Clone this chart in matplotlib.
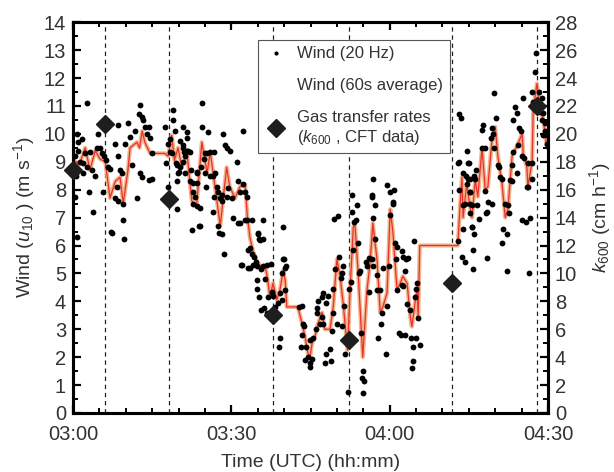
import matplotlib
matplotlib.use("Agg")
import matplotlib.pyplot as plt
from matplotlib.lines import Line2D
from matplotlib.ticker import MultipleLocator, FixedLocator

plt.rcParams['font.family'] = ['Liberation Sans', 'DejaVu Sans']
plt.rcParams['mathtext.fontset'] = 'custom'
plt.rcParams['mathtext.rm'] = 'Liberation Sans'
plt.rcParams['mathtext.it'] = 'Liberation Sans:italic'

# ---- data (time in minutes after 03:00 UTC) ----
xtick_pos = [0, 30, 60, 90]
xtick_labels = ["03:00", "03:30", "04:00", "04:30"]

# 20 Hz wind samples (m s-1)
dots_t = [0.4, 0.7, 0.8, 0.9, 1.7, 0.4, 1.3, 1.9, 2.7, 3.6, 1.9, 4.2, 3.0, 3.8, 4.5, 5.1, 4.8, 5.5, 5.9, 6.3,
          6.7, 7.0, 5.7, 8.0, 8.6, 8.6, 8.9, 9.2, 8.3, 8.0, 8.6, 9.5, 9.9, 10.5, 10.8, 11.1, 11.8, 12.1, 12.4, 12.7,
          13.0, 13.0, 13.3, 13.6, 14.0, 14.3, 14.6, 14.3, 14.9, 12.6, 2.7, 7.2, 7.3, 9.6, 9.5, 14.9, 0.5, 1.0, 2.2, 3.3,
          17.4, 17.6, 18.0, 18.0, 18.7, 19.0, 19.0, 19.3, 19.5, 19.9, 19.7, 20.3, 20.8, 20.8, 21.2, 21.6, 21.8, 22.2, 22.2, 22.5,
          22.7, 23.4, 24.1, 24.4, 24.4, 25.0, 25.0, 25.6, 26.0, 26.5, 26.9, 27.3, 27.5, 27.9, 28.2, 28.4, 28.8, 29.2, 29.7, 29.4,
          30.1, 30.3, 31.1, 31.3, 31.6, 32.2, 32.2, 32.6, 33.0, 33.0, 33.9, 36.0, 39.8,
          21.5, 18.4, 20.3, 20.8, 21.0, 21.6, 20.8, 19.7, 18.4, 20.1, 21.2, 22.4, 23.5, 24.3, 24.8, 25.4, 26.7, 26.0, 26.5, 19.7,
          22.7, 23.4, 25.2, 23.1, 22.7, 23.4, 24.1, 26.7, 28.2, 29.2, 23.9, 27.5, 27.7, 28.2, 28.6,
          31.8, 33.2, 33.5, 33.9, 34.3, 34.7, 35.0, 35.3, 36.0, 33.5, 34.1, 34.8, 35.6, 36.0, 36.7, 37.5, 34.9, 34.8, 35.3, 36.4,
          37.0, 36.1, 35.6, 36.7, 37.7, 37.9, 38.3, 38.9, 39.2, 39.6, 40.0, 40.4, 40.2, 39.6, 39.2, 39.0, 43.4, 42.9, 43.6, 43.8,
          43.4, 43.2, 44.1, 44.6, 43.9, 44.9, 31.3, 31.6, 32.6, 35.1, 35.4, 32.0, 33.2, 39.8, 40.2,
          56.8, 59.5, 60.1, 60.6, 52.9, 56.7, 57.3, 53.8, 52.9, 53.6, 53.2, 56.8, 60.1, 49.5, 50.2, 54.0, 53.1, 57.3, 54.2, 54.4,
          55.5, 55.7, 56.1, 56.7, 56.8, 50.4, 49.6, 51.0, 50.8, 51.2, 58.7, 59.9, 57.6, 52.7, 52.3, 49.3, 48.3, 47.4, 47.2, 47.9,
          46.4, 46.2, 51.3, 56.1, 57.6, 58.2, 59.5, 58.5, 49.3, 46.2, 47.2, 46.8, 47.4, 50.0, 49.1, 46.0, 51.0, 45.5, 44.9, 54.6,
          58.4, 57.8, 51.5, 47.9, 48.7, 47.7, 48.9, 45.3, 44.9, 59.3, 54.9, 54.8, 55.1, 54.9, 52.1, 56.6, 60.7,
          74.6, 72.9, 75.0, 60.8, 74.5, 74.8, 74.6, 73.2, 75.2, 73.9, 75.6, 73.9, 75.6, 72.9, 64.6, 61.0, 61.4, 62.3, 62.5, 63.1,
          63.5, 61.2, 73.7, 74.3, 75.8, 75.8, 62.9, 65.2, 62.3, 62.5, 61.4, 65.0, 64.8, 63.3, 63.9, 65.4, 61.8, 62.1, 62.9, 64.0,
          65.0, 64.4, 65.7, 64.4, 64.2, 73.2, 73.5, 73.2, 73.9, 74.9, 75.2, 74.3,
          87.7, 87.5, 87.2, 87.0, 88.3, 88.9, 88.5, 89.1, 88.9, 89.4, 89.4, 89.0, 89.8, 89.8, 79.8, 85.3, 83.7, 84.1, 83.4, 80.1,
          84.5, 84.9, 77.7, 77.5, 79.4, 79.6, 79.2, 79.8, 77.5, 78.1, 84.3, 83.4, 85.1, 85.5, 76.4, 80.5, 80.7, 83.2, 86.2, 87.0,
          84.1, 76.0, 76.2, 80.9, 81.3, 82.8, 83.2, 87.0, 86.0, 86.2, 75.2, 78.1, 78.6, 79.4, 75.2, 76.5, 81.9, 82.4, 78.4, 78.2,
          75.2, 82.6, 76.9, 75.6, 86.6, 85.1, 85.8, 81.5, 82.2, 76.0, 81.3, 78.4, 82.2, 86.4]
dots_v = [7.75, 6.3, 10.0, 9.7, 9.8, 9.2, 9.0, 8.95, 8.8, 8.7, 8.6, 8.5, 7.9, 7.2, 9.5, 9.5, 10.0, 9.3, 9.2, 9.05,
          8.8, 8.75, 7.9, 9.65, 10.3, 9.2, 8.7, 8.6, 8.1, 7.7, 7.6, 7.5, 9.65, 10.4, 9.9, 8.9, 10.1, 7.7, 10.7, 8.6,
          8.45, 10.6, 10.5, 10.25, 10.0, 10.25, 9.85, 8.35, 9.3, 11.05, 11.1, 6.5, 6.45, 6.25, 6.9, 8.4, 8.5, 9.4, 9.3, 9.35,
          10.25, 8.95, 8.1, 9.65, 9.3, 10.85, 10.5, 10.1, 8.95, 8.6, 7.3, 8.8, 9.5, 10.25, 9.2, 9.85, 9.4, 9.35, 8.3, 6.55,
          7.9, 8.6, 6.7, 11.1, 10.25, 9.3, 8.6, 10.05, 9.35, 7.2, 8.6, 8.1, 7.9, 7.7, 7.6, 10.0, 9.6, 9.5, 9.4, 8.05,
          7.7, 7.0, 9.0, 8.3, 7.9, 8.2, 10.1, 7.9, 7.75, 6.9, 6.9, 6.9, 6.65,
          10.05, 9.8, 9.75, 9.6, 9.35, 9.4, 9.0, 8.9, 9.35, 8.65, 8.6, 8.7, 8.65, 8.8, 9.1, 9.3, 9.35, 8.5, 8.5, 8.3,
          8.25, 8.25, 8.1, 7.75, 7.5, 7.4, 7.35, 7.75, 7.8, 7.75, 6.7, 6.7, 6.45, 6.4, 5.7,
          5.3, 5.85, 5.9, 5.7, 5.6, 5.4, 6.4, 6.25, 6.25, 5.2, 5.3, 5.25, 5.15, 5.25, 5.3, 5.35, 4.75, 4.45, 4.15, 4.8,
          4.15, 3.75, 3.7, 3.6, 4.35, 4.2, 3.8, 3.95, 4.3, 5.0, 5.5, 5.25, 4.4, 4.05, 2.7, 2.35, 3.85, 3.8, 3.2, 3.1,
          2.8, 2.35, 2.35, 2.0, 1.9, 1.8, 6.8, 6.8, 6.9, 6.45, 6.2, 5.3, 5.2, 5.5, 5.2,
          8.4, 8.15, 7.9, 7.55, 7.8, 7.8, 7.45, 7.45, 7.2, 6.9, 6.85, 7.0, 7.1, 6.95, 7.05, 6.1, 5.85, 6.25, 5.0, 5.1,
          5.4, 5.25, 5.55, 5.5, 5.25, 5.6, 5.15, 5.0, 4.85, 5.25, 5.2, 5.25, 4.95, 4.7, 4.45, 4.45, 4.2, 4.3, 4.15, 3.95,
          4.0, 3.75, 3.85, 4.35, 4.4, 4.4, 3.85, 3.6, 3.6, 3.6, 3.45, 3.2, 3.2, 3.2, 2.95, 3.0, 3.1, 2.7, 2.6, 2.85,
          3.2, 2.7, 2.1, 2.1, 2.3, 1.8, 1.85, 1.95, 1.65, 2.1, 1.5, 1.25, 1.15, 0.7, 0.75, 7.75, 7.5,
          9.4, 8.95, 8.95, 8.0, 8.5, 8.4, 8.2, 8.0, 7.9, 7.45, 7.45, 6.6, 6.65, 6.15, 6.15, 6.1, 5.95, 5.8, 5.6, 5.5,
          5.55, 5.5, 5.6, 5.4, 5.85, 5.15, 5.1, 4.65, 4.6, 4.55, 4.4, 4.45, 4.15, 3.9, 3.7, 3.4, 2.85, 2.8, 2.8, 2.7,
          2.7, 2.35, 2.45, 1.85, 1.6, 10.7, 10.55, 9.0, 8.6, 8.95, 8.4, 7.5,
          12.9, 12.2, 11.15, 11.5, 11.5, 11.3, 10.8, 10.75, 10.5, 10.4, 10.1, 9.95, 9.95, 9.65, 11.45, 11.3, 10.95, 10.75, 10.5, 10.55,
          10.2, 10.1, 10.3, 10.15, 10.2, 10.0, 9.85, 9.5, 9.5, 9.5, 9.6, 9.35, 9.2, 9.15, 8.7, 8.9, 8.8, 8.9, 8.95, 8.95,
          8.6, 8.5, 8.4, 8.45, 8.4, 8.35, 8.3, 8.4, 8.1, 8.1, 7.9, 7.95, 7.55, 7.5, 7.5, 7.45, 7.5, 7.45, 7.2, 7.15,
          7.15, 7.15, 6.95, 6.65, 7.0, 6.9, 6.85, 6.6, 6.4, 6.4, 6.1, 5.55, 5.1, 5.0]

# 60 s average wind (m s-1)
avg_t = [0.0, 0.4, 1.2, 2.3, 3.2, 4.2, 5.1, 6.1, 7.0, 8.0, 8.9, 9.5, 10.4, 10.8, 12.1, 12.6, 13.1, 13.6, 14.6, 17.4,
         18.0, 18.7, 19.2, 19.9, 20.6, 21.6, 22.5, 23.4, 24.4, 25.4, 26.0, 26.9, 27.9, 28.4, 29.1, 29.7, 30.7, 31.6, 32.6, 33.0,
         33.5, 34.1, 34.9, 35.8, 36.4, 36.9, 37.3, 37.9, 38.6, 39.2, 39.8, 40.2, 40.5, 42.6, 43.4, 44.0, 44.5, 44.9, 45.3, 45.8,
         46.4, 47.2, 47.7, 48.7, 49.3, 50.0, 50.6, 51.2, 52.0, 52.5, 53.1, 53.4, 54.0, 54.9, 55.7, 56.3, 56.8, 57.6, 58.2, 58.7,
         59.5, 60.1, 60.6, 61.4, 62.0, 62.5, 63.3, 63.9, 64.2, 64.8, 65.2, 65.4, 65.7, 72.9, 73.3, 73.7, 73.9, 74.6, 75.2, 75.6,
         76.2, 76.7, 77.5, 78.1, 78.6, 79.4, 80.0, 80.5, 81.3, 81.9, 82.4, 83.2, 83.7, 84.3, 85.1, 85.3, 86.0, 86.2, 87.0, 87.2,
         87.9, 88.5, 89.1, 89.8, 90.0]
avg_v = [8.8, 9.0, 8.9, 9.5, 8.7, 9.4, 9.1, 9.0, 7.7, 8.3, 8.45, 7.5, 8.7, 9.5, 9.7, 9.5, 10.1, 9.7, 9.3, 9.3,
         9.2, 9.95, 9.05, 9.5, 8.8, 9.3, 7.6, 7.4, 9.7, 8.6, 9.35, 8.1, 6.7, 7.6, 8.8, 8.1, 7.7, 8.1, 8.2, 7.1,
         6.3, 5.8, 5.4, 5.2, 5.3, 4.75, 4.15, 4.65, 4.05, 4.4, 5.1, 4.75, 3.8, 3.8, 3.2, 2.7, 2.15, 2.0, 2.5, 2.7,
         3.2, 3.6, 3.0, 3.0, 3.8, 5.5, 4.9, 3.9, 2.25, 4.4, 6.65, 6.8, 5.1, 2.0, 4.4, 5.4, 6.8, 5.5, 3.6, 3.8,
         4.3, 7.3, 6.5, 4.4, 4.65, 4.9, 4.65, 3.45, 3.1, 3.95, 4.4, 3.45, 6.0, 6.0, 7.3, 8.45, 7.0, 8.2, 7.4, 7.0,
         8.35, 7.75, 9.5, 8.0, 8.1, 9.8, 10.25, 9.2, 8.2, 7.0, 7.3, 9.2, 9.4, 9.65, 10.0, 9.3, 8.8, 8.1, 9.05, 10.85,
         11.8, 10.95, 10.5, 9.5, 9.6]

# gas transfer rates k600 (cm h-1), CFT data
k600_t = [0.0, 6.06, 18.2, 37.9, 52.3, 71.8, 87.9]
k600_v = [17.4, 20.7, 15.3, 7.0, 5.2, 9.3, 22.0]

# sampling boundaries (dashed lines)
bounds_t = [6.06, 18.2, 37.9, 52.3, 71.8, 87.9]

# ---- figure ----
fig = plt.figure(figsize=(6.14, 4.72), dpi=100)
ax = fig.add_axes([0.119, 0.125, 0.7735, 0.828])
ax2 = ax.twinx()

txt = '#333333'
for t in bounds_t:
    ax.axvline(t, color='#222222', lw=0.9, ls=(0, (3.5, 3)), zorder=1)

ax.plot(avg_t, avg_v, color='#f2a77a', lw=3.0, alpha=0.85, zorder=2, solid_joinstyle='round')
ax.plot(avg_t, avg_v, color='#e8322a', lw=0.9, zorder=3)
ax.plot(dots_t, dots_v, ls='none', marker='o', ms=4.2, color='black', mec='none', zorder=4)

ax2.plot(k600_t, k600_v, ls='none', marker='D', ms=9.5, color='#1e1e1e', mec='#1e1e1e', zorder=5, clip_on=False)

ax.set_xlim(0, 90)
ax.set_ylim(0, 14)
ax2.set_ylim(0, 28)

ax.xaxis.set_major_locator(FixedLocator(xtick_pos))
ax.set_xticklabels(xtick_labels)
ax.xaxis.set_minor_locator(MultipleLocator(5))
ax.yaxis.set_major_locator(MultipleLocator(1))
ax.yaxis.set_minor_locator(MultipleLocator(0.5))
ax2.yaxis.set_major_locator(MultipleLocator(2))
ax2.yaxis.set_minor_locator(MultipleLocator(1))

for a in (ax, ax2):
    for s in a.spines.values():
        s.set_linewidth(2.2)
        s.set_color('black')

ax.tick_params(axis='both', which='major', direction='in', length=6, width=1.6,
               labelsize=14.5, labelcolor=txt, top=True, right=False)
ax.tick_params(axis='x', which='major', pad=9)
ax.tick_params(axis='y', which='major', pad=5)
ax.tick_params(axis='both', which='minor', direction='in', length=3.5, width=1.4, top=True, right=False)
ax2.tick_params(axis='y', which='major', direction='in', length=6, width=1.6, labelsize=14.5, labelcolor=txt, pad=5)
ax2.tick_params(axis='y', which='minor', direction='in', length=3.5, width=1.4)

ax.set_xlabel('Time (UTC) (hh:mm)', fontsize=14, color=txt, labelpad=7)
ax.set_ylabel('Wind ($u_{10}$ ) (m s$^{-1}$)', fontsize=14, color=txt, labelpad=5)
ax2.set_ylabel('$k_{600}$ (cm h$^{-1}$)', fontsize=14, color=txt, labelpad=7)

handles = [
    Line2D([], [], ls='none', marker='o', ms=3, color='black', mec='none'),
    Line2D([], [], ls='none', marker='none', color='none'),
    Line2D([], [], ls='none', marker='D', ms=9, color='#1e1e1e'),
]
labels = ['Wind (20 Hz)', 'Wind (60s average)', 'Gas transfer rates\n($k_{600}$ , CFT data)']
leg = ax2.legend(handles, labels, loc='upper left', bbox_to_anchor=(0.389, 0.955), fontsize=12,
                 frameon=True, fancybox=False, framealpha=1, edgecolor='#555555', borderpad=0.4,
                 labelspacing=1.0, handlelength=1.4, handletextpad=0.55, borderaxespad=0)
leg.get_frame().set_linewidth(0.8)
for t in leg.get_texts():
    t.set_color(txt)
leg.set_zorder(10)

fig.savefig('out.png', dpi=100)
